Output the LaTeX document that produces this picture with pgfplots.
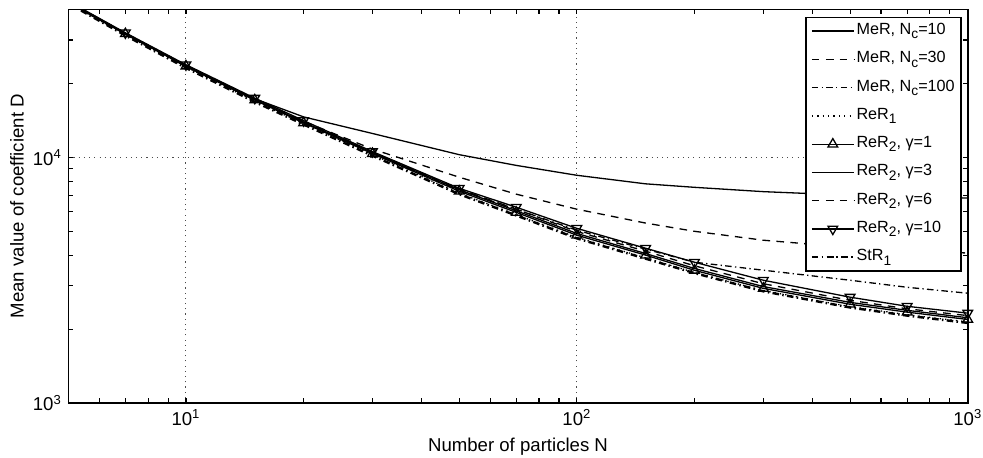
\documentclass[border=0pt]{standalone}
\usepackage{fontspec}
\setmainfont{Liberation Sans}
\usepackage{pgfplots}
\pgfplotsset{compat=1.18}
\newcommand\sub[1]{\raisebox{-0.5ex}{\fontsize{7.4}{8}\selectfont #1}}
\begin{document}
\begin{tikzpicture}
\begin{axis}[
  scale only axis,
  width=483.5pt, height=211.7pt,
  xmode=log, ymode=log,
  xmin=5, xmax=1000, ymin=1000, ymax=40000,
  xtick={10,100,1000},
  xticklabels={10\textsuperscript{1},10\textsuperscript{2},10\textsuperscript{3}},
  ytick={1000,10000},
  yticklabels={10\textsuperscript{3},10\textsuperscript{4}},
  minor xtick={6,7,8,9,20,30,40,50,60,70,80,90,200,300,400,500,600,700,800,900},
  minor ytick={2000,3000,4000,5000,6000,7000,8000,9000,20000,30000,40000},
  tick align=inside,
  major tick length=2.6pt, minor tick length=2.6pt,
  tick style={black, line width=0.6pt},
  axis line style={line width=0.8pt},
  grid=major,
  major grid style={black!70, line width=0.5pt, dash pattern=on 0.6pt off 2.2pt},
  ticklabel style={font=\fontsize{10}{12}\selectfont},
  label style={font=\fontsize{10}{12}\selectfont},
  xlabel={Number of particles N},
  ylabel={Mean value of coefficient D},
  ylabel style={yshift=-2pt},
  legend image code/.code={\draw[mark repeat=2,mark phase=2,#1] plot coordinates {(0pt,0pt) (11.3pt,0pt) (22.6pt,0pt)};},
  legend style={at={(1,1)}, anchor=north east, xshift=-3.2pt, yshift=-3.9pt,
     font=\fontsize{8.7}{10}\selectfont, draw=black, line width=0.8pt,
     inner xsep=2.6pt, inner ysep=0.6pt, row sep=1.6pt,
     nodes={inner xsep=0.8pt, inner ysep=1.5pt, text height=7.2pt, text depth=3.4pt}},
  legend cell align=left,
]
% MeR, Nc=10
\addplot[black, line width=0.7pt, solid] coordinates {(5,42600) (7,31700) (10,23500) (15,17300) (20,14600) (30,12500) (50,10250) (70,9270) (100,8450) (150,7800) (200,7550) (300,7250) (500,7010) (700,6910) (1000,6830)};
\addlegendentry{MeR, N\sub{c}=10}
% MeR, Nc=30
\addplot[black, line width=0.7pt, dash pattern=on 4.1pt off 3.4pt] coordinates {(5,42700) (7,31800) (10,23500) (15,17200) (20,14000) (30,10800) (50,8300) (70,7080) (100,6150) (150,5400) (200,5000) (300,4600) (500,4300) (700,4170) (1000,4080)};
\addlegendentry{MeR, N\sub{c}=30}
% MeR, Nc=100
\addplot[black, line width=0.7pt, dash pattern=on 3.5pt off 1.8pt on 0.7pt off 1.8pt] coordinates {(5,42600) (7,31700) (10,23400) (15,17100) (20,13900) (30,10400) (50,7350) (70,6150) (100,5050) (150,4230) (200,3743) (300,3474) (500,3162) (700,2960) (1000,2800)};
\addlegendentry{MeR, N\sub{c}=100}
% ReR1
\addplot[black, line width=0.7pt, dash pattern=on 0.7pt off 2.2pt] coordinates {(5,42500) (7,31500) (10,23300) (15,16900) (20,13700) (30,10250) (50,7150) (70,5850) (100,4720) (150,3900) (200,3400) (300,2870) (500,2470) (700,2290) (1000,2140)};
\addlegendentry{ReR\sub{1}}
% ReR2, gamma=1
\addplot[black, line width=0.7pt, solid, mark=triangle, mark size=3pt, mark options={solid}] coordinates {(5,42800) (7,31800) (10,23500) (15,17100) (20,13800) (30,10350) (50,7280) (70,5970) (100,4820) (150,4000) (200,3470) (300,2930) (500,2525) (700,2345) (1000,2190)};
\addlegendentry{ReR\sub{2}, γ=1}
% ReR2, gamma=3
\addplot[black, line width=0.7pt, solid] coordinates {(5,42900) (7,31900) (10,23600) (15,17200) (20,13900) (30,10450) (50,7380) (70,6060) (100,4900) (150,4060) (200,3530) (300,2980) (500,2570) (700,2385) (1000,2225)};
\addlegendentry{ReR\sub{2}, γ=3}
% ReR2, gamma=6
\addplot[black, line width=0.7pt, dash pattern=on 4.1pt off 3.4pt] coordinates {(5,43000) (7,32000) (10,23700) (15,17300) (20,14000) (30,10500) (50,7420) (70,6150) (100,4990) (150,4150) (200,3620) (300,3060) (500,2620) (700,2420) (1000,2270)};
\addlegendentry{ReR\sub{2}, γ=6}
% ReR2, gamma=10
\addplot[black, line width=0.7pt, solid, mark=triangle, mark size=3pt, mark options={solid, rotate=180}] coordinates {(5,43200) (7,32100) (10,23800) (15,17400) (20,14100) (30,10550) (50,7480) (70,6265) (100,5140) (150,4267) (200,3743) (300,3162) (500,2698) (700,2477) (1000,2323)};
\addlegendentry{ReR\sub{2}, γ=10}
% StR1
\addplot[black, line width=1.3pt, dash pattern=on 3.5pt off 1.8pt on 0.8pt off 1.8pt] coordinates {(5,42300) (7,31300) (10,23100) (15,16800) (20,13600) (30,10150) (50,7080) (70,5800) (100,4680) (150,3870) (200,3380) (300,2850) (500,2450) (700,2270) (1000,2120)};
\addlegendentry{StR\sub{1}}
\end{axis}
\pgfresetboundingbox
\path ([shift={(-36.7pt,-29pt)}]current axis.south west) rectangle ([shift={(8.2pt,5pt)}]current axis.north east);
\end{tikzpicture}
\end{document}
